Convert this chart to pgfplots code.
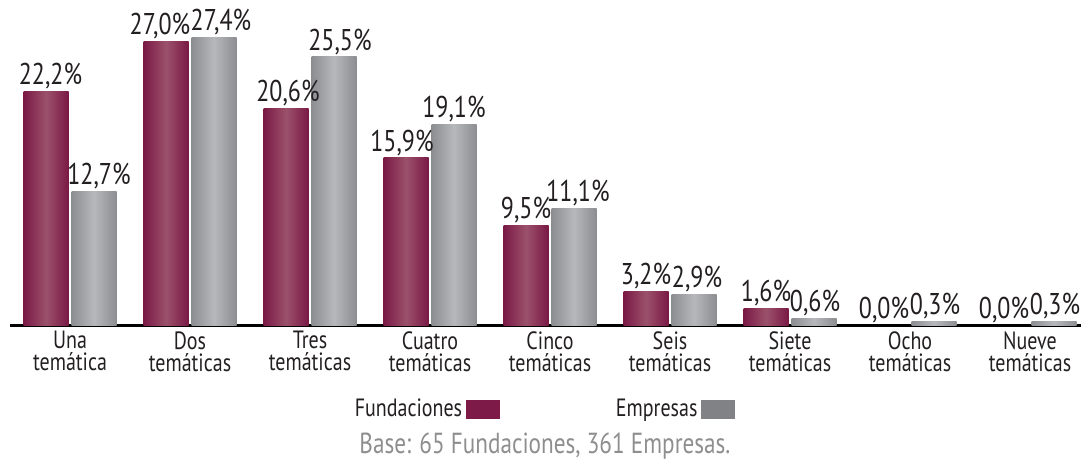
\documentclass[border=0pt]{standalone}
\usepackage{fontspec}
\setmainfont{PT Sans}[FakeStretch=0.8]
\usepackage{pgfplots}
\pgfplotsset{compat=1.18}
\definecolor{fund}{HTML}{7A1946}
\definecolor{fundmid}{HTML}{9C516A}
\definecolor{emp}{HTML}{8C8D91}
\definecolor{empmid}{HTML}{B6B8BB}
\definecolor{fundleg}{HTML}{7D1A48}
\definecolor{empleg}{HTML}{818286}
\definecolor{basegray}{HTML}{8E8E8E}
\definecolor{txt}{HTML}{231F20}
\pgfplotsset{
  fundbar/.style={draw=none, left color=fund, right color=fund, middle color=fundmid, bar shift=-12pt, forget plot},
  empbar/.style={draw=none, left color=emp, right color=emp, middle color=empmid, bar shift=12pt, forget plot},
  lab/.style={nodes near coords style={xshift=#1}},
}
\begin{document}
\begin{tikzpicture}
\path[use as bounding box] (-5pt,-68.5pt) rectangle (540.5pt,162.5pt);
\begin{axis}[
  scale only axis,
  width=535.5pt, height=144pt,
  xmin=-0.5, xmax=8.425,
  ymin=0, ymax=27.4,
  clip=false,
  ybar,
  bar width=22.5pt,
  axis x line=bottom,
  axis y line=none,
  x axis line style={-, line width=1.5pt, black},
  xtick={0,...,8},
  major tick length=0pt,
  xticklabels={{Una\\temática},{Dos\\temáticas},{Tres\\temáticas},{Cuatro\\temáticas},{Cinco\\temáticas},{Seis\\temáticas},{Siete\\temáticas},{Ocho\\temáticas},{Nueve\\temáticas}},
  xticklabel style={align=center, font=\fontsize{12.5}{11}\selectfont, text=txt, inner sep=1pt, yshift=-2pt},
  /pgf/number format/assume math mode=true,
  nodes near coords={\pgfmathprintnumber[fixed,fixed zerofill,precision=1,use comma]{\pgfplotspointmeta}\%},
  nodes near coords style={font=\fontsize{15}{15}\selectfont, text=txt, inner sep=0.5pt, yshift=0.5pt},
  legend plot pos=right,
  legend columns=2,
  legend style={draw=none, fill=none, at={(0.4977,-0.2917)}, anchor=center,
    font=\fontsize{12.5}{12.5}\selectfont, text=txt,
    /tikz/every even column/.append style={column sep=56pt}},
]
% Fundaciones
\addplot[fundbar, lab=2.25pt] coordinates {(0,22.2)};
\addplot[fundbar, lab=-3pt] coordinates {(1,27.0)};
\addplot[fundbar, lab=1pt] coordinates {(2,20.6)};
\addplot[fundbar, lab=-2pt] coordinates {(3,15.9)};
\addplot[fundbar] coordinates {(4,9.5)};
\addplot[fundbar] coordinates {(5,3.2)};
\addplot[fundbar] coordinates {(6,1.6)};
\addplot[draw=none, fill=none, bar shift=-12pt, forget plot, lab=-1pt] coordinates {(7,0.0) (8,0.0)};
% Empresas
\addplot[empbar, lab=2.5pt] coordinates {(0,12.7)};
\addplot[empbar, lab=3.5pt] coordinates {(1,27.4)};
\addplot[empbar, lab=3pt] coordinates {(2,25.5)};
\addplot[empbar] coordinates {(3,19.1)};
\addplot[empbar, lab=2pt] coordinates {(4,11.1)};
\addplot[empbar, lab=1.5pt] coordinates {(5,2.9)};
\addplot[empbar, lab=0.5pt] coordinates {(6,0.6)};
\addplot[empbar, lab=0.5pt] coordinates {(7,0.3)};
\addplot[empbar, lab=0.5pt] coordinates {(8,0.3)};
\addlegendimage{legend image code/.code={\fill[fundleg] (3.5pt,-4.5pt) rectangle (20pt,4.5pt);}}
\addlegendentry{Fundaciones}
\addlegendimage{legend image code/.code={\fill[empleg] (1.5pt,-4.5pt) rectangle (18pt,4.5pt);}}
\addlegendentry{Empresas}
\node[font=\fontsize{14.5}{14.5}\selectfont, text=basegray] at (axis description cs:0.4995,-0.42) {Base: 65 Fundaciones, 361 Empresas.};
\end{axis}
\end{tikzpicture}
\end{document}
